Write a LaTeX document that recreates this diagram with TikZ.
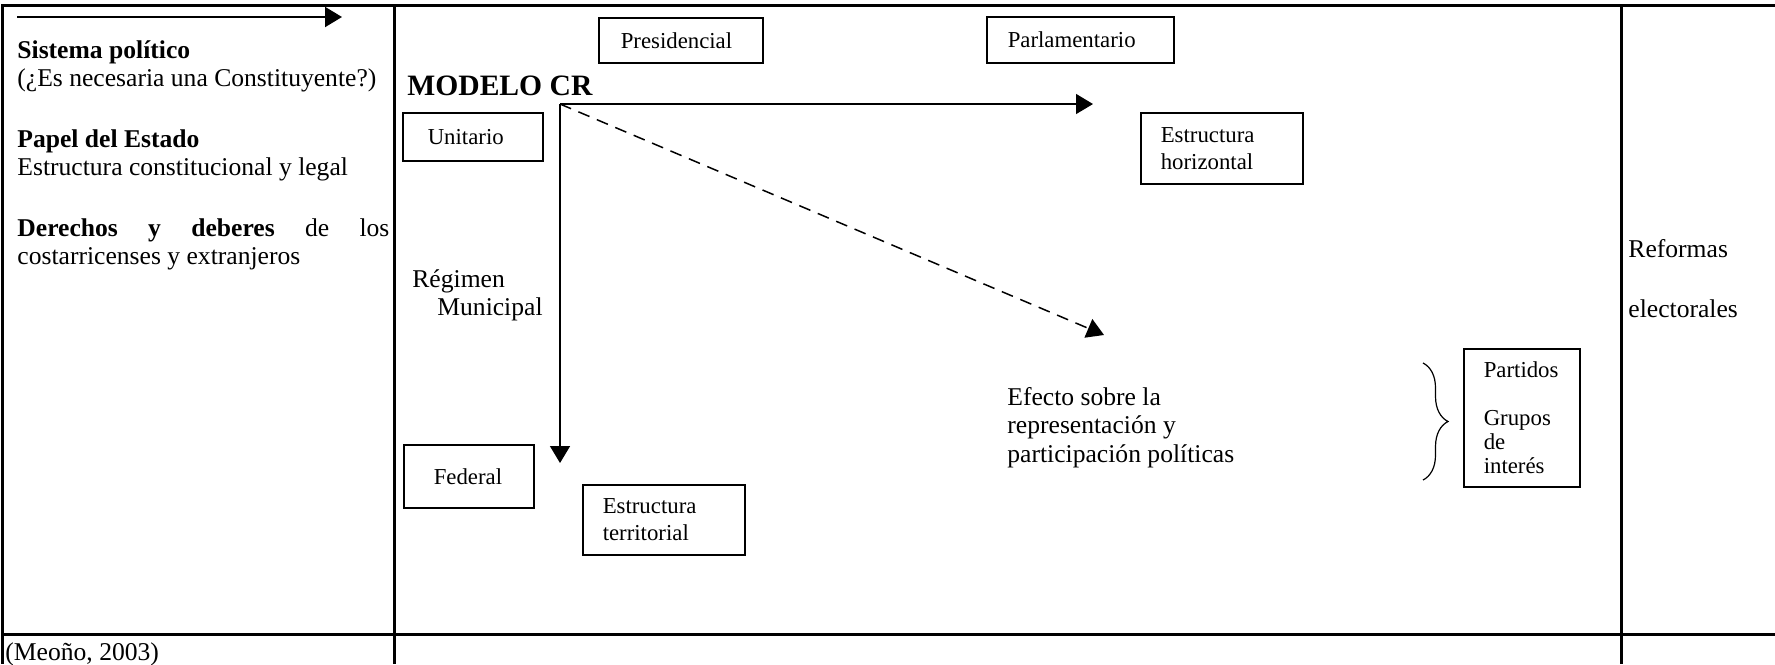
\documentclass[tikz,border=0pt]{standalone}
\usepackage{fontspec}
\setmainfont{Liberation Serif}
\usetikzlibrary{positioning,arrows.meta,decorations.pathreplacing}

\begin{document}
\begin{tikzpicture}[x=.5pt, y=-.5pt, tabla/.style={line width=1.5pt}, box/.style={draw, line width=.75pt, anchor=north west, align=left, inner ysep=0pt, font={\fontsize{11.4}{13.5}\selectfont}}, txt/.style={anchor=base west, inner sep=0pt, align=left, font={\fontsize{12.8}{14}\selectfont\hyphenpenalty=10000\exhyphenpenalty=10000}}, flecha/.style={line width=.75pt, -{Triangle[length=8.5pt, width=10pt]}}]

\useasboundingbox (0,0) rectangle (1775,664);
\clip (0,0) rectangle (1775,664);

\draw[tabla] (1775,5) -- (2,5) -- (2,664);
\draw[tabla] (394,5) -- (394,664);
\draw[tabla] (1621,5) -- (1621,664);
\draw[tabla] (2,634) -- (1775,634);

\coordinate (inicio) at (17,17);
\coordinate (fin) at (342,17);
\draw[flecha, line width=1pt] (inicio) -- (fin);

\node[txt] (sistema) at (17,86) {\textbf{Sistema político}\\(¿Es necesaria una Constituyente?)};
\node[txt] (papel) at (17,175) {\textbf{Papel del Estado}\\Estructura constitucional y legal};
\node[txt, text width=186pt, align=justify] (derechos) at (17,236) {\textbf{Derechos y deberes} de los costarricenses y extranjeros};
\node[txt] (meono) at (5,660) {(Meoño, 2003)};

\node[txt, font={\bfseries\fontsize{14.8}{17}\selectfont}] (modelo) at (407,95) {MODELO CR};
\node[box, text width=60pt, minimum height=22.5pt, inner xsep=11pt] (presidencial) at (598,17) {Presidencial};
\node[box, text width=72.5pt, minimum height=23pt, inner xsep=10.5pt] (parlamentario) at (986,16) {Parlamentario};
\node[box, text width=45pt, minimum height=24pt, inner xsep=12.5pt] (unitario) at (402,112) {Unitario};
\node[box, text width=61pt, minimum height=35.5pt, inner xsep=10pt] (horizontal) at (1140,112) {Estructura\\horizontal};
\node[txt] (regimen) at (412,315) {Régimen\\\hspace*{12.5pt}Municipal};
\node[box, text width=35pt, minimum height=31.5pt, inner xsep=15pt] (federal) at (403,444) {Federal};
\node[box, text width=61pt, minimum height=35pt, inner xsep=10pt] (territorial) at (582,484) {Estructura\\territorial};
\node[txt, font={\fontsize{12.8}{14.25}\selectfont}] (efecto) at (1007,462) {Efecto sobre la\\representación y\\participación políticas};
\node[box, text width=38pt, minimum height=69pt, inner xsep=10pt, font={\fontsize{11.4}{12}\selectfont}] (partidos) at (1463,348) {Partidos\\[12pt]Grupos\\de\\interés};

\coordinate (origen) at (560,104);
\coordinate (derecha) at (1093,104);
\coordinate (abajo) at (560,463);
\coordinate (diagonal) at (1104,335);
\draw[flecha] (origen) -- (derecha);
\draw[flecha] (origen) -- (abajo);
\draw[flecha, dash pattern=on 6pt off 4pt] (origen) -- (diagonal);

\coordinate (llave-a) at (1423,363);
\coordinate (llave-b) at (1423,480);
\draw[line width=.6pt, decorate, decoration={brace, amplitude=12.5pt}] (llave-a) -- (llave-b);

\node[txt] (reformas) at (1628,317) {Reformas\\[16pt]electorales};
\end{tikzpicture}
\end{document}
